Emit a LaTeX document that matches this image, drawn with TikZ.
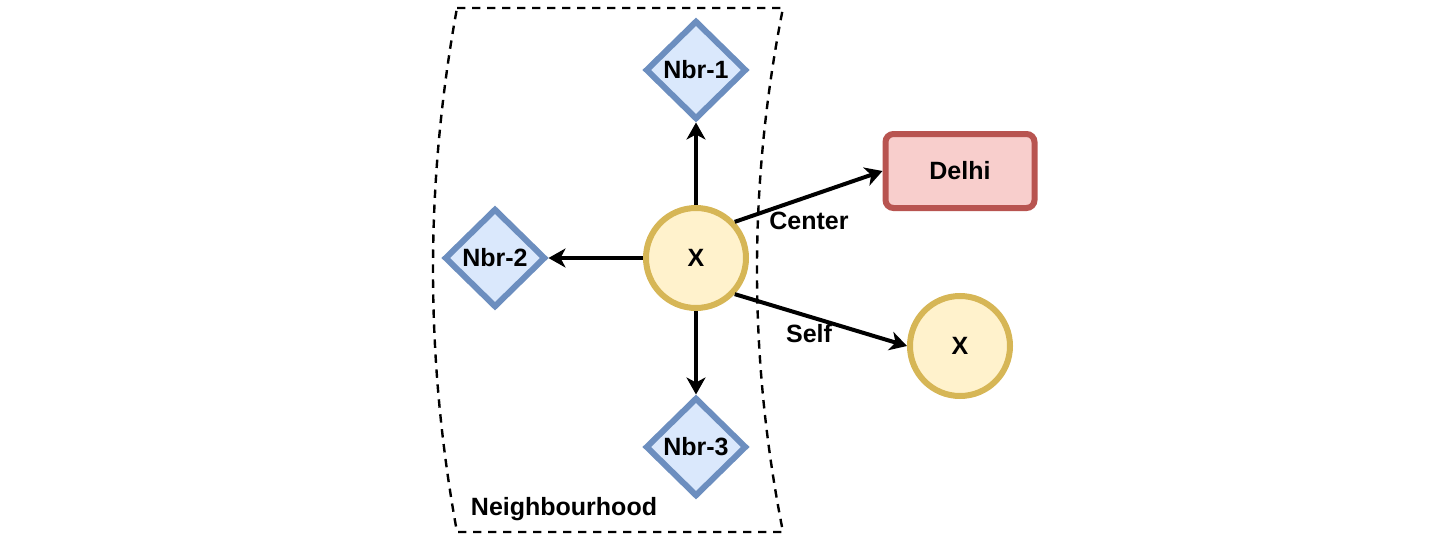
\documentclass[tikz,border=0pt]{standalone}
\usepackage{fontspec}
\setmainfont{Liberation Sans}
\usetikzlibrary{shapes.geometric,arrows.meta}
\definecolor{bluefill}{HTML}{DAE8FC}
\definecolor{bluestroke}{HTML}{6C8EBF}
\definecolor{yelfill}{HTML}{FFF2CC}
\definecolor{yelstroke}{HTML}{D6B656}
\definecolor{redfill}{HTML}{F8CECC}
\definecolor{redstroke}{HTML}{B85450}
\tikzset{
  every node/.style={font=\fontsize{12.5}{14}\selectfont\bfseries},
  nbr/.style={diamond, draw=bluestroke, fill=bluefill, line width=3pt, inner sep=0pt, minimum width=50.5pt, minimum height=49.5pt},
  xnode/.style={circle, draw=yelstroke, fill=yelfill, line width=3pt, inner sep=0pt, minimum size=50pt},
  city/.style={rectangle, rounded corners=4pt, draw=redstroke, fill=redfill, line width=3pt, inner sep=0pt, minimum width=74.5pt, minimum height=37pt},
  arr/.style={line width=2pt, -{Stealth[length=8.5pt, width=9.5pt, inset=2.5pt]}},
  hood/.style={dash pattern=on 4.2pt off 3.3pt, line width=1.2pt},
  lbl/.style={inner sep=0pt}
}
\begin{document}
\begin{tikzpicture}[x=0.5pt,y=-0.5pt]
\useasboundingbox (0,0) rectangle (1452,546);
% neighbourhood region
\coordinate (tl) at (457,8);
\coordinate (tr) at (783,8);
\coordinate (br) at (783,532);
\coordinate (bl) at (457,532);
\draw[hood] (tl) -- (tr) .. controls (748.3,182.7) and (748.3,357.3) .. (br) -- (bl) .. controls (425,357.3) and (425,182.7) .. (tl) -- cycle;
\node[lbl] (hoodlabel) at (564,509) {Neighbourhood};
% nodes
\node[nbr] (n1) at (696,70) {Nbr-1};
\node[nbr] (n2) at (495,258) {Nbr-2};
\node[nbr] (n3) at (696,447) {Nbr-3};
\node[xnode] (x) at (696,258) {X};
\node[city] (delhi) at (960,171) {Delhi};
\node[xnode] (x2) at (960,346) {X};
% connectors
\draw[arr] (x) -- (n1);
\draw[arr] (x) -- (n2);
\draw[arr] (x) -- (n3);
\draw[arr] (x.43) -- (delhi.west);
\draw[arr] (x.-43) -- (x2.west);
\node[lbl] (lcenter) at (809,221) {Center};
\node[lbl] (lself) at (809,334) {Self};
\end{tikzpicture}
\end{document}
